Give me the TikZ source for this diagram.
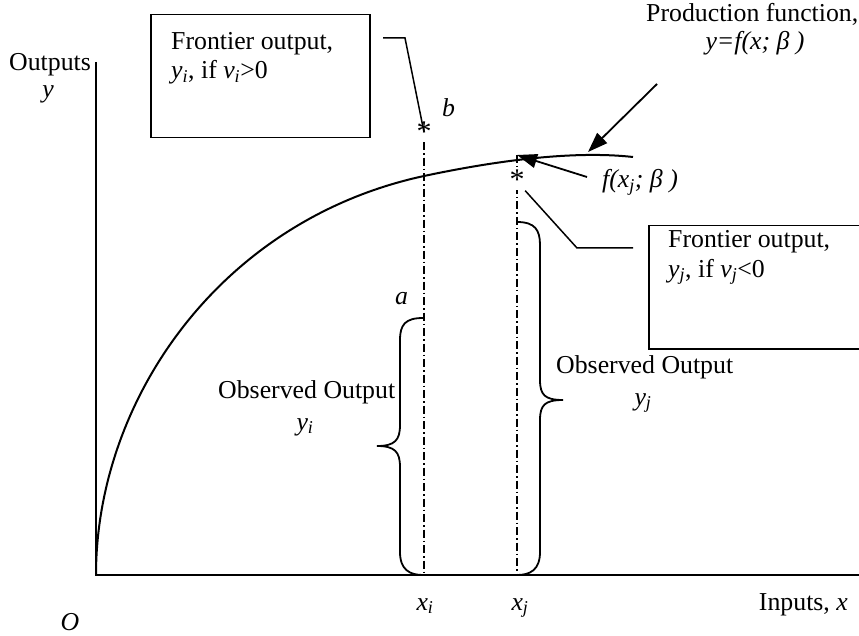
\documentclass[tikz,border=0pt]{standalone}
\usepackage{fontspec}
\setmainfont{Liberation Serif}
\usetikzlibrary{arrows.meta}
\begin{document}
\begin{tikzpicture}[x=1pt,y=-1pt,
  lbl/.style={font=\fontsize{25.8}{29}\selectfont, inner sep=0pt},
  axis/.style={line width=2pt},
  curve/.style={line width=2pt},
  guide/.style={line width=1.6pt, dash pattern=on 8pt off 3pt on 1.5pt off 3pt},
  bracestyle/.style={line width=1.8pt},
  leader/.style={line width=1.5pt},
  pointer/.style={line width=1.8pt, -{Triangle[length=20pt,width=14pt]}},
  boxstyle/.style={draw, line width=1.5pt, anchor=north west, inner sep=0pt}]
\useasboundingbox (0,0) rectangle (859,636);
\fill[white] (0,0) rectangle (859,636);
% axes
\coordinate (O0) at (96,575);
\coordinate (ytop) at (96,62);
\coordinate (xend) at (859,575);
\draw[axis] (ytop) -- (O0) -- (xend);
% production curve
\coordinate (cend) at (633,157);
\draw[curve] (O0) .. controls (96,400) and (220,220) .. (424,176) .. controls (490,162) and (570,150) .. (cend);
% stars and guide lines
\coordinate (xi) at (424,575);
\coordinate (xj) at (517,575);
\coordinate (jtop) at (517,155);
\node[lbl, anchor=base, font=\fontsize{30}{30}\selectfont] (sb) at (424,142) {*};
\draw[guide] (sb.south) -- (xi);
\draw[guide] (jtop) -- (xj);
\node[lbl, anchor=base, fill=white, inner sep=0.5pt, font=\fontsize{30}{30}\selectfont] (sj) at (517,190) {*};
% braces
\coordinate (bi1) at (423,318);
\coordinate (bi2) at (423,575);
\draw[bracestyle] (bi1) .. controls (405,318) and (400,325) .. (400,340) -- (400,425)
  .. controls (400,440) and (395,446) .. (377,446)
  .. controls (395,446) and (400,452) .. (400,467) -- (400,552)
  .. controls (400,570) and (410,575) .. (bi2);
\coordinate (bj1) at (517,222);
\coordinate (bj2) at (517,575);
\draw[bracestyle] (bj1) .. controls (535,222) and (540,230) .. (540,245) -- (540,380)
  .. controls (540,395) and (545,400) .. (563,400)
  .. controls (545,400) and (540,405) .. (540,420) -- (540,552)
  .. controls (540,570) and (530,575) .. (bj2);
% boxes
\node[boxstyle, minimum width=219pt, minimum height=123pt] (box1) at (150,14) {};
\node[lbl, anchor=base west] (b1t1) at (171,50) {Frontier output,};
\node[lbl, anchor=base west] (b1t2) at (171,79) {\textit{y}\textsubscript{\textit{i}}, if \textit{v}\textsubscript{\textit{i}}>0};
\begin{scope}
\clip (0,0) rectangle (859,636);
\node[boxstyle, minimum width=240pt, minimum height=123pt] (box2) at (648,225) {};
\end{scope}
\node[lbl, anchor=base west] (b2t1) at (668,248) {Frontier output,};
\node[lbl, anchor=base west] (b2t2) at (668,277) {\textit{y}\textsubscript{\textit{j}}, if \textit{v}\textsubscript{\textit{j}}<0};
% leaders
\coordinate (l1a) at (383,38);
\coordinate (l1b) at (405,38);
\draw[leader] (l1a) -- (l1b) -- (sb.center);
\coordinate (l2b) at (577,248);
\coordinate (l2c) at (633,248);
\draw[leader] (sj.south east) -- (l2b) -- (l2c);
% pointers
\coordinate (pfs) at (657,84);
\coordinate (pfe) at (588,152);
\draw[pointer] (pfs) -- (pfe);
\coordinate (fjs) at (587,177);
\draw[pointer] (fjs) -- (jtop);
% labels
\node[lbl, anchor=base west] (outputs) at (9,71) {Outputs};
\node[lbl, anchor=base] (ylab) at (48,98) {\textit{y}};
\node[lbl, anchor=base] (olab) at (70,630) {\textit{O}};
\node[lbl, anchor=base] (xil) at (425,610) {\textit{x}\textsubscript{\textit{i}}};
\node[lbl, anchor=base] (xjl) at (520,610) {\textit{x}\textsubscript{\textit{j}}};
\node[lbl, anchor=base east] (inputs) at (848,610) {Inputs, \textit{x}};
\node[lbl, anchor=base west] (pf1) at (646,22) {Production function,};
\node[lbl, anchor=base] (pf2) at (755,50) {\textit{y=f(x; β )}};
\node[lbl, anchor=base west] (blab) at (442,117) {\textit{b}};
\node[lbl, anchor=base west] (alab) at (395,305) {\textit{a}};
\node[lbl, anchor=base west] (fxj) at (602,188) {\textit{f(x\textsubscript{j}; β )}};
\node[lbl, anchor=base west] (obsi) at (218,398) {Observed Output};
\node[lbl, anchor=base] (yi) at (305,430) {\textit{y}\textsubscript{\textit{i}}};
\node[lbl, anchor=base west] (obsj) at (556,373) {Observed Output};
\node[lbl, anchor=base] (yj) at (643,405) {\textit{y}\textsubscript{\textit{j}}};
\end{tikzpicture}
\end{document}
